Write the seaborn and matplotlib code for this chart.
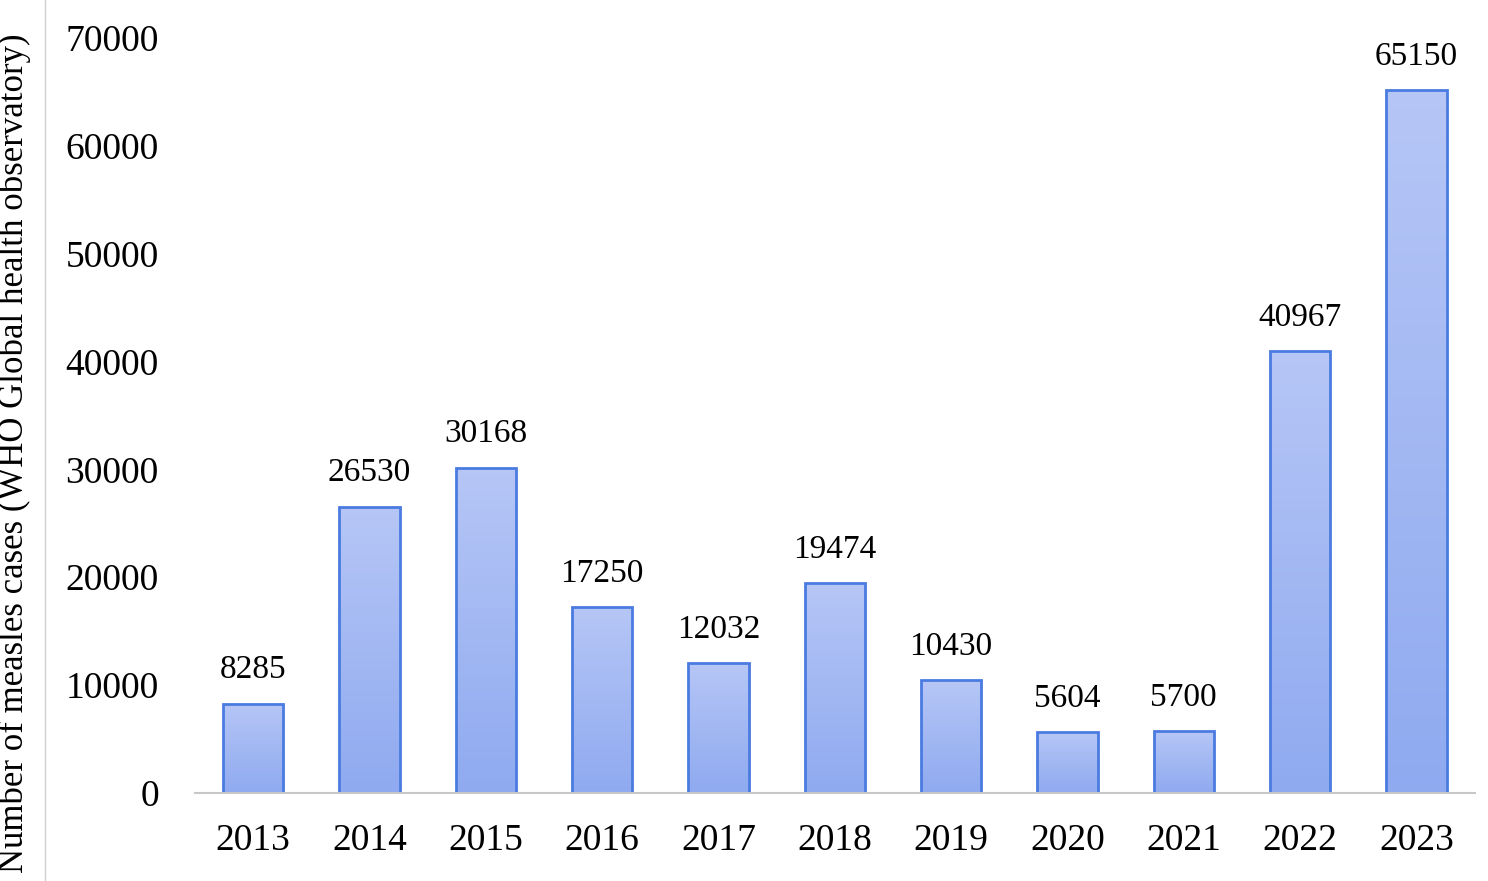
import numpy as np
import pandas as pd
import matplotlib
matplotlib.use("Agg")
import matplotlib.pyplot as plt
import seaborn as sns
from matplotlib.colors import LinearSegmentedColormap

years = ["2013", "2014", "2015", "2016", "2017", "2018", "2019", "2020", "2021", "2022", "2023"]
cases = [8285, 26530, 30168, 17250, 12032, 19474, 10430, 5604, 5700, 40967, 65150]

df = pd.DataFrame({"year": years, "cases": cases})

plt.rcParams["font.family"] = "Liberation Serif"
fig = plt.figure(figsize=(14.88, 8.81), dpi=100)
ax = fig.add_axes([0.131, 0.1, 0.86, 0.857])

sns.barplot(data=df, x="year", y="cases", ax=ax, width=0.52,
            color="#a9bcf3", edgecolor="#4a7be0", linewidth=2)

# vertical gradient inside each bar
cmap = LinearSegmentedColormap.from_list("grad", ["#8faaf0", "#b6c6f6"])
grad = np.linspace(0, 1, 256).reshape(-1, 1)
for p in ax.patches:
    x0, y0 = p.get_x(), p.get_y()
    w, h = p.get_width(), p.get_height()
    im = ax.imshow(grad, cmap=cmap, origin="lower", aspect="auto",
                   extent=[x0, x0 + w, y0, y0 + h], zorder=p.get_zorder() - 0.1)
    im.set_clip_path(p)
    p.set_facecolor("none")

for i, v in enumerate(cases):
    ax.text(i, v + 1700, str(v), ha="center", va="bottom", fontsize=24)

ax.set_xlim(-0.5, len(years) - 0.5)
ax.set_ylim(0, 70000)
ax.set_yticks(range(0, 70001, 10000))
ax.tick_params(axis="both", length=0, labelsize=27)
ax.tick_params(axis="x", pad=22)
ax.tick_params(axis="y", pad=26)
ax.set_xlabel("")
ax.set_ylabel("Number of measles cases (WHO Global health observatory)", fontsize=25)
ax.yaxis.set_label_coords(-0.128, 0.45)
for s in ["top", "right", "left"]:
    ax.spines[s].set_visible(False)
ax.spines["bottom"].set_color("#c8c8c8")
ax.spines["bottom"].set_linewidth(1.5)

fig.add_artist(plt.Line2D([0.03, 0.03], [0, 1], color="#d0d0d0", lw=1))

fig.savefig("out.png", dpi=100)
